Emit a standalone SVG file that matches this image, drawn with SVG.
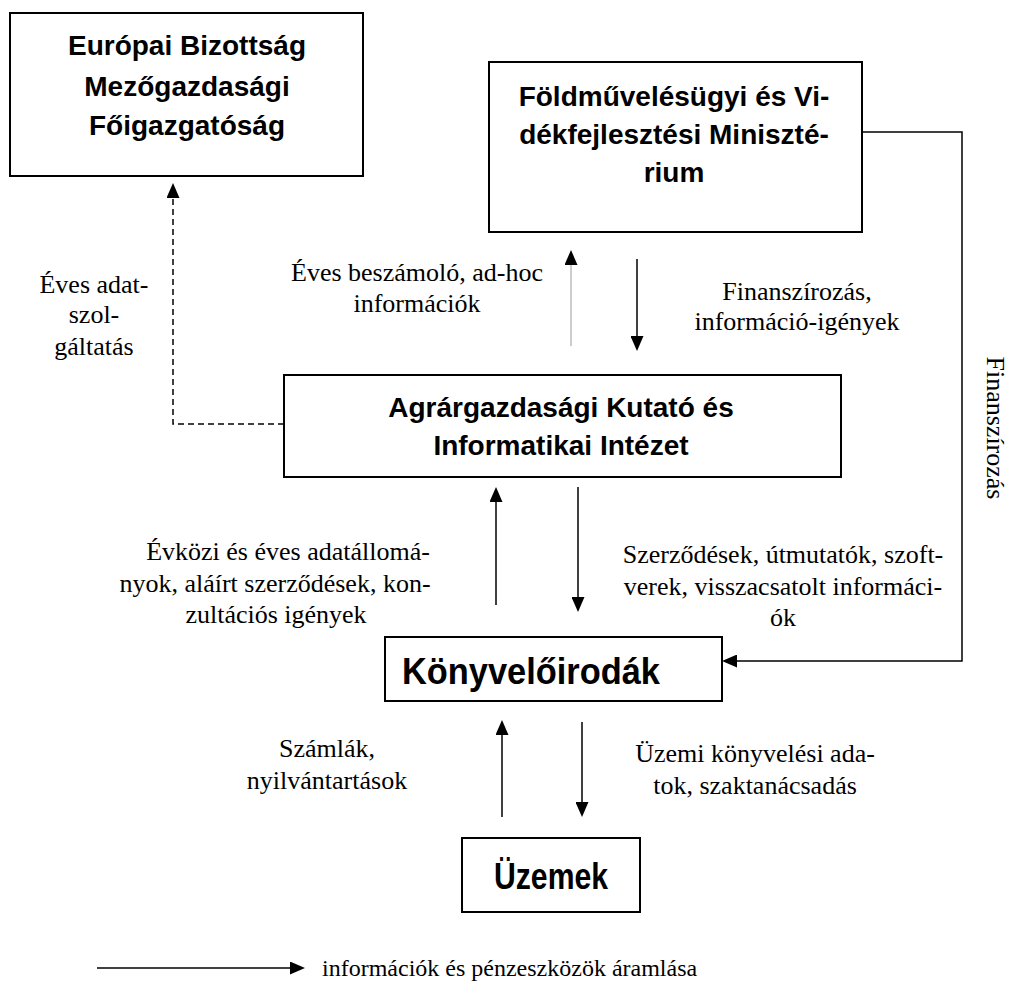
<svg xmlns="http://www.w3.org/2000/svg" width="1011" height="983" viewBox="0 0 1011 983">
<defs>
<style>
.box{fill:#fff;stroke:#000;stroke-width:2}
.bt{font-family:"Liberation Sans",Arial,sans-serif;font-weight:bold;font-size:28px;text-anchor:middle;fill:#000}
.bt2{font-family:"Liberation Sans",Arial,sans-serif;font-weight:bold;font-size:37px;text-anchor:middle;fill:#000}
.lbl{font-family:"Liberation Serif","Times New Roman",serif;font-size:26px;text-anchor:middle;fill:#000}
.ln{fill:none;stroke:#000;stroke-width:1.5}
.dash{fill:none;stroke:#000;stroke-width:1.5;stroke-dasharray:6,4}
.thin{fill:none;stroke:#999;stroke-width:1}
</style>
<marker id="ah" markerUnits="userSpaceOnUse" markerWidth="15" markerHeight="13" refX="10" refY="6.5" orient="auto"><path d="M0,0 L15,6.5 L0,13 z" fill="#000"/></marker>
</defs>
<rect width="1011" height="983" fill="#fff"/>

<g id="eu">
<rect class="box" x="10" y="13" width="353" height="163"/>
<text class="bt" x="187" y="55">Európai Bizottság</text>
<text class="bt" x="187" y="96">Mezőgazdasági</text>
<text class="bt" x="187" y="135">Főigazgatóság</text>
</g>

<g id="ministry">
<rect class="box" x="489" y="62" width="373" height="170"/>
<text class="bt" x="674" y="106">Földművelésügyi és Vi-</text>
<text class="bt" x="674" y="144">dékfejlesztési Miniszté-</text>
<text class="bt" x="674" y="182">rium</text>
</g>

<g id="akii">
<rect class="box" x="284" y="375" width="557" height="102"/>
<text class="bt" x="561" y="417">Agrárgazdasági Kutató és</text>
<text class="bt" x="561" y="455">Informatikai Intézet</text>
</g>

<g id="konyvelo">
<rect class="box" x="385" y="637" width="337" height="64"/>
<text class="bt2" x="531" y="684" textLength="258" lengthAdjust="spacingAndGlyphs">Könyvelőirodák</text>
</g>

<g id="uzemek">
<rect class="box" x="462" y="838" width="178" height="74"/>
<text class="bt2" x="551" y="889" textLength="114" lengthAdjust="spacingAndGlyphs">Üzemek</text>
</g>

<g id="connectors">
<path class="dash" d="M284,424 H173 V188" marker-end="url(#ah)"/>
<path class="thin" d="M571,346 V255" marker-end="url(#ah)"/>
<path class="ln" d="M637,259 V346" marker-end="url(#ah)"/>
<path class="ln" d="M496,605 V492" marker-end="url(#ah)"/>
<path class="ln" d="M578,487 V607" marker-end="url(#ah)"/>
<path class="ln" d="M502,817 V725" marker-end="url(#ah)"/>
<path class="ln" d="M582,722 V812" marker-end="url(#ah)"/>
<path class="ln" d="M862,132 H962 V661 H727" marker-end="url(#ah)"/>
<path class="ln" d="M97,968 H300" marker-end="url(#ah)"/>
</g>

<g id="labels">
<text class="lbl" x="94" y="293">Éves adat-</text>
<text class="lbl" x="94" y="323">szol-</text>
<text class="lbl" x="94" y="355">gáltatás</text>

<text class="lbl" x="417" y="281">Éves beszámoló, ad-hoc</text>
<text class="lbl" x="417" y="312">információk</text>

<text class="lbl" x="797" y="300">Finanszírozás,</text>
<text class="lbl" x="797" y="330">információ-igények</text>

<text class="lbl" x="288" y="560">Évközi és éves adatállomá-</text>
<text class="lbl" x="275" y="592">nyok, aláírt szerződések, kon-</text>
<text class="lbl" x="276" y="623">zultációs igények</text>

<text class="lbl" x="783" y="563">Szerződések, útmutatók, szoft-</text>
<text class="lbl" x="783" y="595">verek, visszacsatolt informáci-</text>
<text class="lbl" x="783" y="626">ók</text>

<text class="lbl" x="327" y="757">Számlák,</text>
<text class="lbl" x="327" y="789">nyilvántartások</text>

<text class="lbl" x="755" y="762">Üzemi könyvelési ada-</text>
<text class="lbl" x="755" y="794">tok, szaktanácsadás</text>

<text class="lbl" transform="translate(987,428) rotate(90)">Finanszírozás</text>

<text class="lbl" x="322" y="976" style="text-anchor:start;font-size:24px">információk és pénzeszközök áramlása</text>
</g>
</svg>
